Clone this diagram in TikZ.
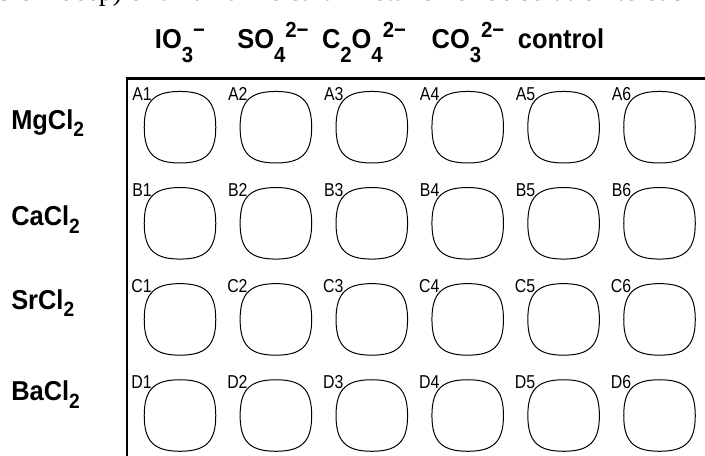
\documentclass[tikz,border=0pt]{standalone}
\usepackage{fontspec}
\setmainfont{Liberation Serif}
\newfontfamily\headfont[FakeStretch=0.93]{Liberation Sans}
\newfontfamily\wellfont[FakeStretch=0.85]{Liberation Sans}
\usetikzlibrary{calc}

% sub- and superscripts for the ion names
\newcommand{\hsub}[1]{\raisebox{-10.5pt}{\fontsize{16.4}{16}\selectfont #1}}
\newcommand{\hsup}[1]{\raisebox{8pt}{\fontsize{16.4}{16}\selectfont #1}}
\newcommand{\rsub}[1]{\raisebox{-5.5pt}{\fontsize{15.5}{16}\selectfont #1}}

\tikzset{
  head/.style={anchor=base, inner sep=0pt, font=\headfont\bfseries\fontsize{20.5}{22}\selectfont},
  salt/.style={anchor=base west, inner sep=0pt, font=\headfont\bfseries\fontsize{20.5}{22}\selectfont},
  well/.style={rectangle, minimum size=53.25pt, inner sep=0pt},
  wellline/.style={line width=0.75pt},
  wlabel/.style={anchor=base east, inner sep=0pt, font=\wellfont\fontsize{14}{14}\selectfont},
  tray/.style={line width=1.9pt}
}
\def\bend{26}

\begin{document}
\begin{tikzpicture}[x=0.75pt, y=-0.75pt]
\useasboundingbox (0,0) rectangle (705,455);
\clip (0,0) rectangle (705,455);

% line of text above the picture
\node[anchor=base east, inner sep=0pt, font=\fontsize{21}{22}\selectfont] (intro) at (697,0)
  {5 cm deep) of an alkaline earth metal chloride solution to each};

% Anions
\node[head] (io) at (180,48.6) {IO\hsub{3}\hsup{−}};
\node[head] (so) at (273,48.6) {SO\hsub{4}\hsup{2−}};
\node[head] (cox) at (364,48.6) {C\hsub{2}O\hsub{4}\hsup{2−}};
\node[head] (co) at (468,48.6) {CO\hsub{3}\hsup{2−}};
\node[head] (ctrl) at (561,48.6) {control};

% Salts
\node[salt] (mg) at (11,129) {MgCl\rsub{2}};
\node[salt] (ca) at (11,225.7) {CaCl\rsub{2}};
\node[salt] (sr) at (11,309.3) {SrCl\rsub{2}};
\node[salt] (ba) at (11,400.7) {BaCl\rsub{2}};

% Tray
\draw[tray] (127,470) -- (127,78.5) -- (720,78.5);

% Wells
\foreach \r [count=\i from 0] in {A,B,C,D} {
  \foreach \c in {1,...,6} {
    \node[well] (\r\c) at ({180+95.9*(\c-1)},{127.2+96.1*\i}) {};
    \draw[wellline] (\r\c.north) .. controls +(\bend,0) and +(0,-\bend) .. (\r\c.east)
      .. controls +(0,\bend) and +(\bend,0) .. (\r\c.south)
      .. controls +(-\bend,0) and +(0,\bend) .. (\r\c.west)
      .. controls +(0,-\bend) and +(-\bend,0) .. (\r\c.north) -- cycle;
    \node[wlabel] (lab\r\c) at ($(\r\c.north west)+(7.7,9)$) {\r\c};
  }
}
\end{tikzpicture}
\end{document}
